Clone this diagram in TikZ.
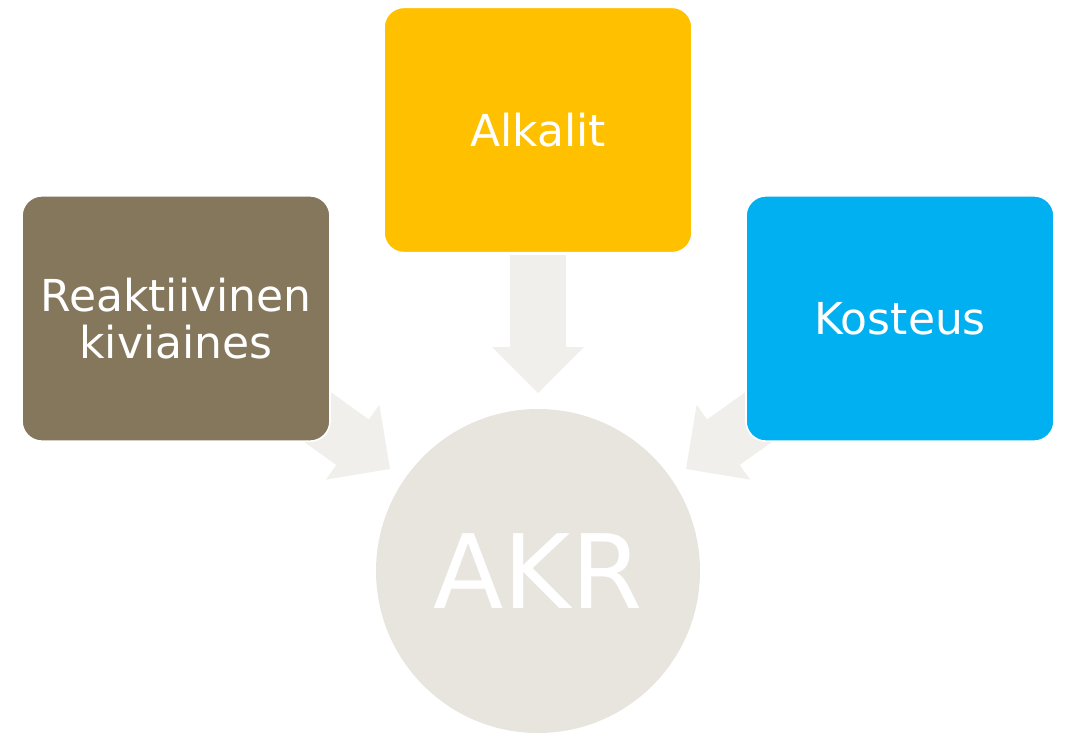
\documentclass[tikz,border=0pt]{standalone}
\usepackage{fontspec}
\setmainfont{DejaVu Sans}
\usepackage{tikz}

\definecolor{stone}{HTML}{85775C}
\definecolor{amber}{HTML}{FFC000}
\definecolor{sky}{HTML}{00B0F0}
\definecolor{pebble}{HTML}{E8E5DF}
\definecolor{mist}{HTML}{F0EFEB}

\tikzset{
  box/.style={rectangle, rounded corners=15pt, draw=white, line width=1.2pt,
    minimum width=231pt, minimum height=184pt, align=center, text=white,
    font=\fontsize{33}{35}\selectfont},
  blockarrow/.style={fill=mist}
}

\begin{document}
\begin{tikzpicture}[x=0.75pt,y=-0.75pt]
                \useasboundingbox (0,0) rectangle (1066,732);
                % Arrow tips
                \coordinate (tipL) at (390,469);
                \coordinate (tipT) at (538,393);
                \coordinate (tipR) at (686,469);
                % Arrows
                \fill[blockarrow, shift={(tipL)}, rotate=-35.6] (-138,28) -- (-46,28) -- (-46,46) -- (0,0) -- (-46,-46) -- (-46,-28) -- (-138,-28) -- cycle;
                \fill[blockarrow, shift={(tipT)}, rotate=-90] (-138,28) -- (-46,28) -- (-46,46) -- (0,0) -- (-46,-46) -- (-46,-28) -- (-138,-28) -- cycle;
                \fill[blockarrow, shift={(tipR)}, rotate=-144.4] (-138,28) -- (-46,28) -- (-46,46) -- (0,0) -- (-46,-46) -- (-46,-28) -- (-138,-28) -- cycle;
                % Nodes
                \node[box, fill=stone] (kivi) at (176,318.5) {Reaktiivinen\\kiviaines};
                \node[box, fill=amber] (alkalit) at (538,130) {Alkalit};
                \node[box, fill=sky] (kosteus) at (900,318.5) {Kosteus};
                \node[circle, fill=pebble, minimum size=243pt, text=white,
                  font=\fontsize{77}{77}\selectfont] (akr) at (538,571) {AKR};
            \end{tikzpicture}
\end{document}
